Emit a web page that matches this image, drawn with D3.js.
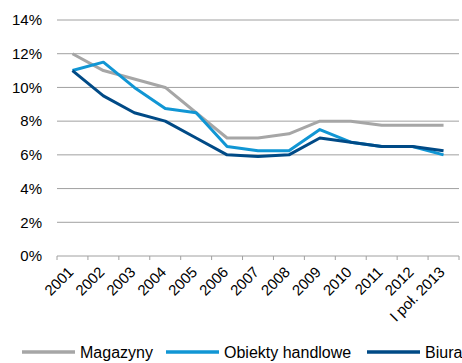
<!DOCTYPE html>
<html>
<head>
<meta charset="utf-8">
<script src="https://cdn.jsdelivr.net/npm/d3@7"></script>
<style>
  body { margin: 0; background: #fff; }
  text { font-family: "Liberation Sans", Arial, sans-serif; fill: #000; }
</style>
</head>
<body>
<div id="chart"></div>
<script>
const years = ["2001", "2002", "2003", "2004", "2005", "2006", "2007", "2008", "2009", "2010", "2011", "2012", "I poł. 2013"];
const magazyny = [12, 11, 10.5, 10, 8.5, 7, 7, 7.25, 8, 8, 7.75, 7.75, 7.75];
const handlowe = [11, 11.5, 10, 8.75, 8.5, 6.5, 6.25, 6.25, 7.5, 6.75, 6.5, 6.5, 6];
const biura = [11, 9.5, 8.5, 8, 7, 6, 5.9, 6, 7, 6.75, 6.5, 6.5, 6.25];
const yTicks = [0, 2, 4, 6, 8, 10, 12, 14];

const series = [
  { name: "Magazyny", values: magazyny, color: "#a6a6a6" },
  { name: "Obiekty handlowe", values: handlowe, color: "#1196d4" },
  { name: "Biura", values: biura, color: "#004a86" }
];

const W = 462, H = 363;
const margin = { top: 20, right: 3, bottom: 107, left: 57 };
const width = W - margin.left - margin.right,
  height = H - margin.top - margin.bottom;

const svg = d3.select("#chart").append("svg")
  .attr("width", W).attr("height", H);

const g = svg.append("g")
  .attr("transform", "translate(" + margin.left + "," + margin.top + ")");

const x = d3.scaleBand().domain(years).range([0, width]);
const y = d3.scaleLinear().domain([0, 14]).range([height, 0]);

// grid
g.selectAll(".grid").data(yTicks.filter(d => d > 0)).enter()
  .append("line")
  .attr("x1", 0).attr("x2", width)
  .attr("y1", d => y(d)).attr("y2", d => y(d))
  .attr("stroke", "#a0a0a0").attr("stroke-width", 1);

// y labels
g.selectAll(".ylab").data(yTicks).enter()
  .append("text")
  .attr("x", -15).attr("y", d => y(d))
  .attr("dy", "0.35em")
  .attr("text-anchor", "end")
  .style("font-size", "15px")
  .text(d => d + "%");

// x axis
g.append("line")
  .attr("x1", 0).attr("x2", width)
  .attr("y1", height).attr("y2", height)
  .attr("stroke", "#a0a0a0").attr("stroke-width", 1);

const tickPos = years.map(d => x(d)).concat([width]);
g.selectAll(".xtick").data(tickPos).enter()
  .append("line")
  .attr("x1", d => d).attr("x2", d => d)
  .attr("y1", height).attr("y2", height + 4)
  .attr("stroke", "#a0a0a0");

g.selectAll(".xlab").data(years).enter()
  .append("text")
  .attr("text-anchor", "end")
  .style("font-size", "15px")
  .attr("transform", d => "translate(" + (x(d) + x.bandwidth() / 2 + 2) + "," + (height + 17) + ") rotate(-45)")
  .text(d => d);

// lines
const line = d3.line()
  .x((d, i) => x(years[i]) + x.bandwidth() / 2)
  .y(d => y(d));

g.selectAll(".series").data(series).enter()
  .append("path")
  .attr("fill", "none")
  .attr("stroke", d => d.color)
  .attr("stroke-width", 3)
  .attr("stroke-linejoin", "round")
  .attr("d", d => line(d.values));

// legend (nudged up a little so descenders stay inside the frame)
const legendX = [22, 166, 367];
const lg = svg.selectAll(".legend").data(series).enter()
  .append("g")
  .attr("transform", (d, i) => "translate(" + legendX[i] + "," + 352 + ")");

lg.append("line")
  .attr("x1", 0).attr("x2", 53)
  .attr("y1", 0).attr("y2", 0)
  .attr("stroke", d => d.color)
  .attr("stroke-width", 3.5);

lg.append("text")
  .attr("x", 58).attr("y", 6)
  .style("font-size", "16px")
  .text(d => d.name);
</script>
</body>
</html>
